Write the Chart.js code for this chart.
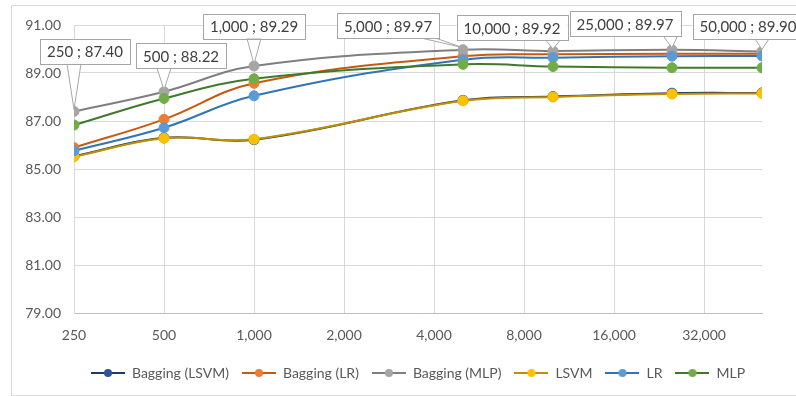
<!DOCTYPE html>
<html lang="en">
<head>
  <meta charset="UTF-8" />
  <title>Accuracy vs. training size</title>
  <script src="https://cdn.jsdelivr.net/npm/chart.js"></script>
  <style>
    body { margin: 0; background: #fff; }
    #frame { position: absolute; left: 11px; top: 5px; width: 800px; height: 389px; border: 1px solid #d9d9d9; }
    canvas { position: absolute; left: 0; top: 0; }
  </style>
</head>
<body>
  <div id="frame"></div>
  <canvas id="accChart" width="796" height="396"></canvas>

  <script>
    // training set sizes (x) and tick marks of the base-2 log axis
    const sizes = [250, 500, 1000, 5000, 10000, 25000, 50000];
    const tickSizes = [250, 500, 1000, 2000, 4000, 8000, 16000, 32000];

    const baggingLSVM = [85.53, 86.30, 86.22, 87.86, 88.02, 88.16, 88.17];
    const baggingLR   = [85.89, 87.07, 88.57, 89.70, 89.78, 89.80, 89.80];
    const baggingMLP  = [87.40, 88.22, 89.29, 89.97, 89.92, 89.97, 89.90];
    const lsvm        = [85.51, 86.28, 86.24, 87.84, 88.00, 88.12, 88.15];
    const lr          = [85.76, 86.72, 88.05, 89.55, 89.64, 89.70, 89.71];
    const mlp         = [86.83, 87.94, 88.76, 89.36, 89.27, 89.22, 89.22];

    const seriesNames = ["Bagging (LSVM)", "Bagging (LR)", "Bagging (MLP)", "LSVM", "LR", "MLP"];
    const seriesValues = [baggingLSVM, baggingLR, baggingMLP, lsvm, lr, mlp];
    const lineColors   = ["#1f3864", "#c55a11", "#7f7f7f", "#bf9000", "#2e75b6", "#3f7a2c"];
    const markerColors = ["#2f5597", "#ed7d31", "#a5a5a5", "#ffc000", "#5b9bd5", "#70ad47"];

    // where each callout box sits relative to its point (Bagging (MLP) labels)
    const labelOffsets = [[11, -60], [17, -36], [0, -40], [-75, -24], [-41, -23], [-47, -26], [-14, -25]];

    function legendIcon(line, marker) {
      const c = document.createElement("canvas");
      c.width = 34; c.height = 12;
      const g = c.getContext("2d");
      g.strokeStyle = line; g.lineWidth = 2;
      g.beginPath(); g.moveTo(0, 6); g.lineTo(34, 6); g.stroke();
      g.fillStyle = marker;
      g.beginPath(); g.arc(17, 6, 4, 0, Math.PI * 2); g.fill();
      return c;
    }

    const calloutPlugin = {
      id: "callouts",
      afterDatasetsDraw(chart) {
        const meta = chart.getDatasetMeta(2);
        const ctx = chart.ctx;
        ctx.save();
        ctx.font = "15px Lato";
        ctx.textAlign = "center";
        ctx.textBaseline = "middle";
        meta.data.forEach((pt, i) => {
          const text = sizes[i].toLocaleString("en-US") + " ; " + baggingMLP[i].toFixed(2);
          const w = ctx.measureText(text).width + 14, h = 25;
          const cx = pt.x + labelOffsets[i][0], cy = pt.y + labelOffsets[i][1];
          const left = cx - w / 2, top = cy - h / 2;
          const ax = Math.min(Math.max(pt.x, left + 10), left + w - 10);
          const ay = top + h;
          ctx.fillStyle = "#fff";
          ctx.strokeStyle = "#a6a6a6";
          ctx.lineWidth = 1;
          ctx.beginPath();
          ctx.moveTo(ax - 7, ay);
          ctx.lineTo(pt.x, pt.y - 2);
          ctx.lineTo(ax + 7, ay);
          ctx.closePath();
          ctx.fill(); ctx.stroke();
          ctx.fillRect(left, top, w, h);
          ctx.strokeRect(Math.round(left) + 0.5, Math.round(top) + 0.5, Math.round(w), h);
          ctx.fillStyle = "#404040";
          ctx.fillText(text, cx, cy + 1);
        });
        ctx.restore();
      }
    };

    const datasets = seriesNames.map((name, i) => ({
      label: name,
      data: sizes.map((s, k) => ({ x: s, y: seriesValues[i][k] })),
      borderColor: lineColors[i],
      backgroundColor: markerColors[i],
      pointBackgroundColor: markerColors[i],
      pointBorderColor: markerColors[i],
      pointRadius: 5,
      pointBorderWidth: 1,
      borderWidth: 2,
      tension: 0.4,
      order: seriesNames.length - i
    }));

    new Chart(document.getElementById("accChart").getContext("2d"), {
      type: "line",
      data: { datasets },
      options: {
        responsive: false,
        animation: false,
        layout: { padding: { left: 0, right: 34, top: 25, bottom: 6 } },
        plugins: {
          tooltip: { enabled: false },
          legend: {
            position: "bottom",
            fullSize: false,
            labels: {
              usePointStyle: true,
              pointStyleWidth: 34,
              boxHeight: 12,
              padding: 13,
              color: "#595959",
              font: { family: "Lato", size: 14 },
              generateLabels: chart => chart.data.datasets.map((ds, i) => ({
                text: ds.label,
                pointStyle: legendIcon(lineColors[i], markerColors[i]),
                fillStyle: markerColors[i],
                strokeStyle: lineColors[i],
                lineWidth: 0,
                fontColor: "#595959",
                datasetIndex: i
              }))
            }
          }
        },
        scales: {
          x: {
            type: "logarithmic",
            min: 250,
            max: 50000,
            afterBuildTicks: scale => { scale.ticks = tickSizes.map(v => ({ value: v })); },
            afterFit: scale => { scale.height = 40; },
            grid: { color: "#d9d9d9", drawTicks: false },
            border: { color: "#bfbfbf" },
            ticks: {
              autoSkip: false,
              maxRotation: 0,
              padding: 14,
              color: "#595959",
              font: { family: "Lato", size: 14 },
              callback: v => Number(v).toLocaleString("en-US")
            }
          },
          y: {
            min: 79,
            max: 91,
            afterFit: scale => { scale.width = 74; },
            grid: { color: "#d9d9d9", drawTicks: false },
            border: { color: "#d9d9d9" },
            ticks: {
              stepSize: 2,
              padding: 13,
              color: "#595959",
              font: { family: "Lato", size: 14 },
              callback: v => Number(v).toFixed(2)
            }
          }
        }
      },
      plugins: [calloutPlugin]
    });
  </script>
</body>
</html>
